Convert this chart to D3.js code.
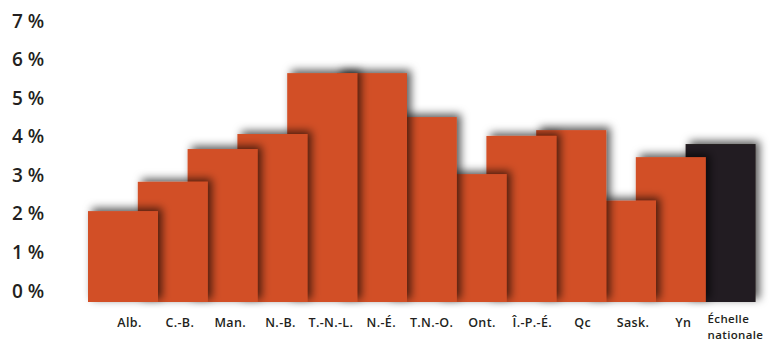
<!DOCTYPE html>
<html lang="fr">
<head>
<meta charset="utf-8">
<script src="https://cdn.jsdelivr.net/npm/d3@7"></script>
<style>
  html, body { margin: 0; padding: 0; background: #ffffff; }
  svg { display: block; }
  text { font-family: "Open Sans", "Noto Sans", sans-serif; fill: #231f20; }
</style>
</head>
<body>
<div id="chart"></div>
<script>
// Taux par province / territoire, en pourcentage
const categories = ["Alb.", "C.-B.", "Man.", "N.-B.", "T.-N.-L.", "N.-É.", "T.N.-O.", "Ont.", "Î.-P.-É.", "Qc", "Sask.", "Yn", "Échelle nationale"];
const values = [2.06, 2.82, 3.67, 4.06, 5.64, 5.64, 4.50, 3.02, 4.01, 4.16, 2.33, 3.46, 3.80];
const tickValues = [0, 1, 2, 3, 4, 5, 6, 7];
const tickLabels = ["0 %", "1 %", "2 %", "3 %", "4 %", "5 %", "6 %", "7 %"];

const width = 780, height = 342;
const orange = "#d24f27", dark = "#231f20";

const svg = d3.select("#chart").append("svg")
  .attr("width", width).attr("height", height);

// Soft shadow thrown up and to the right of each bar
const defs = svg.append("defs");
const f = defs.append("filter").attr("id", "barShadow")
  .attr("x", "-30%").attr("y", "-30%").attr("width", "160%").attr("height", "160%");
f.append("feDropShadow")
  .attr("dx", 4).attr("dy", -3).attr("stdDeviation", 4.5)
  .attr("flood-color", "#000").attr("flood-opacity", 0.65);

const x = d3.scaleBand().domain(categories).range([88, 88 + 13 * 49.8]).padding(0);
const y = d3.scaleLinear().domain([0, 7]).range([290.5, 20.7]);
const baseline = y(0) + 11.5;
const barWidth = 70;

// Y labels
svg.append("g").selectAll("text").data(tickValues).join("text")
  .attr("x", 12).attr("y", d => y(d))
  .attr("dominant-baseline", "central")
  .attr("font-size", 19).attr("font-weight", 600)
  .text((d, i) => tickLabels[i]);

// Bars: drawn last-to-first so each bar sits over its right-hand neighbour
const data = categories.map((c, i) => ({ c, v: values[i], i }));
svg.append("g").selectAll("rect").data(data.slice().reverse()).join("rect")
  .attr("x", d => x(d.c))
  .attr("y", d => y(d.v))
  .attr("width", barWidth)
  .attr("height", d => baseline - y(d.v))
  .attr("fill", d => d.i === categories.length - 1 ? dark : orange)
  .attr("filter", "url(#barShadow)");

// Category labels
const lab = svg.append("g")
  .attr("font-size", 12.5).attr("font-weight", 600).attr("letter-spacing", 0.35);
data.forEach(d => {
  if (d.i === categories.length - 1) {
    // two-line label for the national figure
    const words = d.c.split(" ");
    lab.append("text").attr("x", x(d.c) + 22).attr("y", 323)
      .attr("font-size", 11.5).text(words[0]);
    lab.append("text").attr("x", x(d.c) + 22).attr("y", 338.5)
      .attr("font-size", 11.5).text(words[1]);
  } else {
    lab.append("text")
      .attr("x", x(d.c) + 41.5 + 0.55 * d.i)
      .attr("y", 327)
      .attr("text-anchor", "middle")
      .text(d.c);
  }
});
</script>
</body>
</html>
